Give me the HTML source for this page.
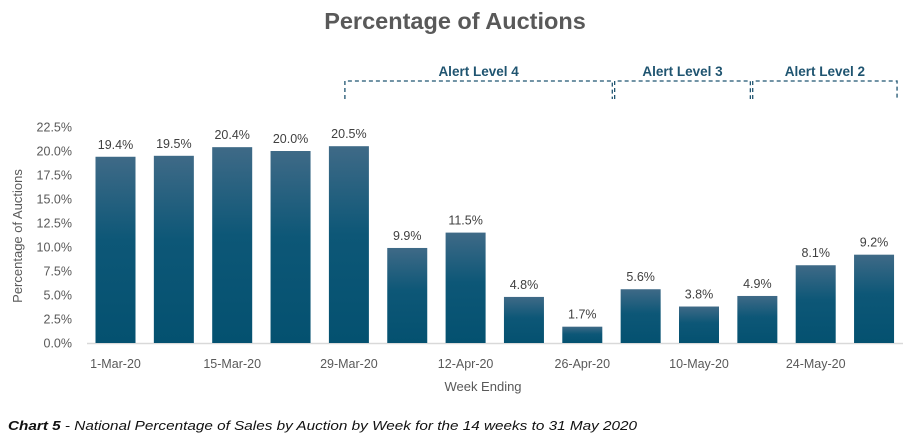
<!DOCTYPE html>
<html><head><meta charset="utf-8"><style>
body{margin:0;background:#fff;}
svg{display:block;font-family:"Liberation Sans",sans-serif;}
</style></head><body>
<svg id="c" width="907" height="447" viewBox="0 0 907 447">
<defs><linearGradient id="g" x1="0" y1="0" x2="0" y2="1">
<stop offset="0" stop-color="#3f6a87"/><stop offset="0.45" stop-color="#0d5777"/><stop offset="1" stop-color="#045170"/></linearGradient></defs>
<text x="455" y="29" text-anchor="middle" font-size="23.5" font-weight="bold" fill="#595959">Percentage of Auctions</text>
<g id="alerts" fill="none" stroke="#1f5470" stroke-width="1.3" stroke-dasharray="4,3"></g>
<g id="grid"></g>
<g id="bars"></g>
<text transform="translate(22,236) rotate(-90)" text-anchor="middle" font-size="13" fill="#595959">Percentage of Auctions</text>
<text x="483" y="391" text-anchor="middle" font-size="13" fill="#595959">Week Ending</text>
<text x="8" y="430" font-size="13" font-style="italic" fill="#111" textLength="629" lengthAdjust="spacingAndGlyphs"><tspan font-weight="bold">Chart 5</tspan> - National Percentage of Sales by Auction by Week for the 14 weeks to 31 May 2020</text>
</svg>
<script>
const categories=["1-Mar-20","8-Mar-20","15-Mar-20","22-Mar-20","29-Mar-20","5-Apr-20","12-Apr-20","19-Apr-20","26-Apr-20","3-May-20","10-May-20","17-May-20","24-May-20","31-May-20"];
const values=[19.4,19.5,20.4,20.0,20.5,9.9,11.5,4.8,1.7,5.6,3.8,4.9,8.1,9.2];
const yTicks=[0,2.5,5,7.5,10,12.5,15,17.5,20,22.5];
const alertLabels=["Alert Level 4","Alert Level 3","Alert Level 2"];
const alertStart=[4,9,12];
const alertEnd=[8,11,13];
const NS="http://www.w3.org/2000/svg";
const svg=document.getElementById('c');
const y=v=>343-v*9.6;
const xc=i=>115.5+i*58.35;
const bw=40;
function mk(t,a,p){const e=document.createElementNS(NS,t);for(const k in a)e.setAttribute(k,a[k]);p.appendChild(e);return e;}
const grid=document.getElementById('grid');
yTicks.forEach(v=>{const t=mk('text',{x:72,y:y(v)+4.5,'text-anchor':'end','font-size':12.5,fill:'#595959'},grid);t.textContent=v.toFixed(1)+'%';

});
const ax=mk('line',{x1:87,x2:903,y1:343.5,y2:343.5,stroke:'#d9d9d9','stroke-width':1.5},grid);


const bars=document.getElementById('bars');
values.forEach((v,i)=>{
const r=mk('rect',{x:xc(i)-bw/2,y:y(v),width:bw,height:343-y(v),fill:'url(#g)'},bars);


const l=mk('text',{x:xc(i),y:y(v)-8,'text-anchor':'middle','font-size':12.5,fill:'#404040'},bars);
l.textContent=v.toFixed(1)+'%';


if(i%2===0){const c=mk('text',{x:xc(i),y:368,'text-anchor':'middle','font-size':12.5,fill:'#595959'},bars);c.textContent=categories[i];

}
});
const al=document.getElementById('alerts');
const startOff=[-4,-26,-63];
const endOff=[30,-7,23];
alertLabels.forEach((s,k)=>{
const x1=xc(alertStart[k])+startOff[k], x2=xc(alertEnd[k])+endOff[k];
const p=mk('path',{d:`M${x1},99 V81 H${x2} V99`},al);


const t=mk('text',{x:(x1+x2)/2,y:76,'text-anchor':'middle','font-size':13.5,'font-weight':'bold',fill:'#1f5470',stroke:'none'},svg);
t.textContent=s;


});
</script>
</body></html>
